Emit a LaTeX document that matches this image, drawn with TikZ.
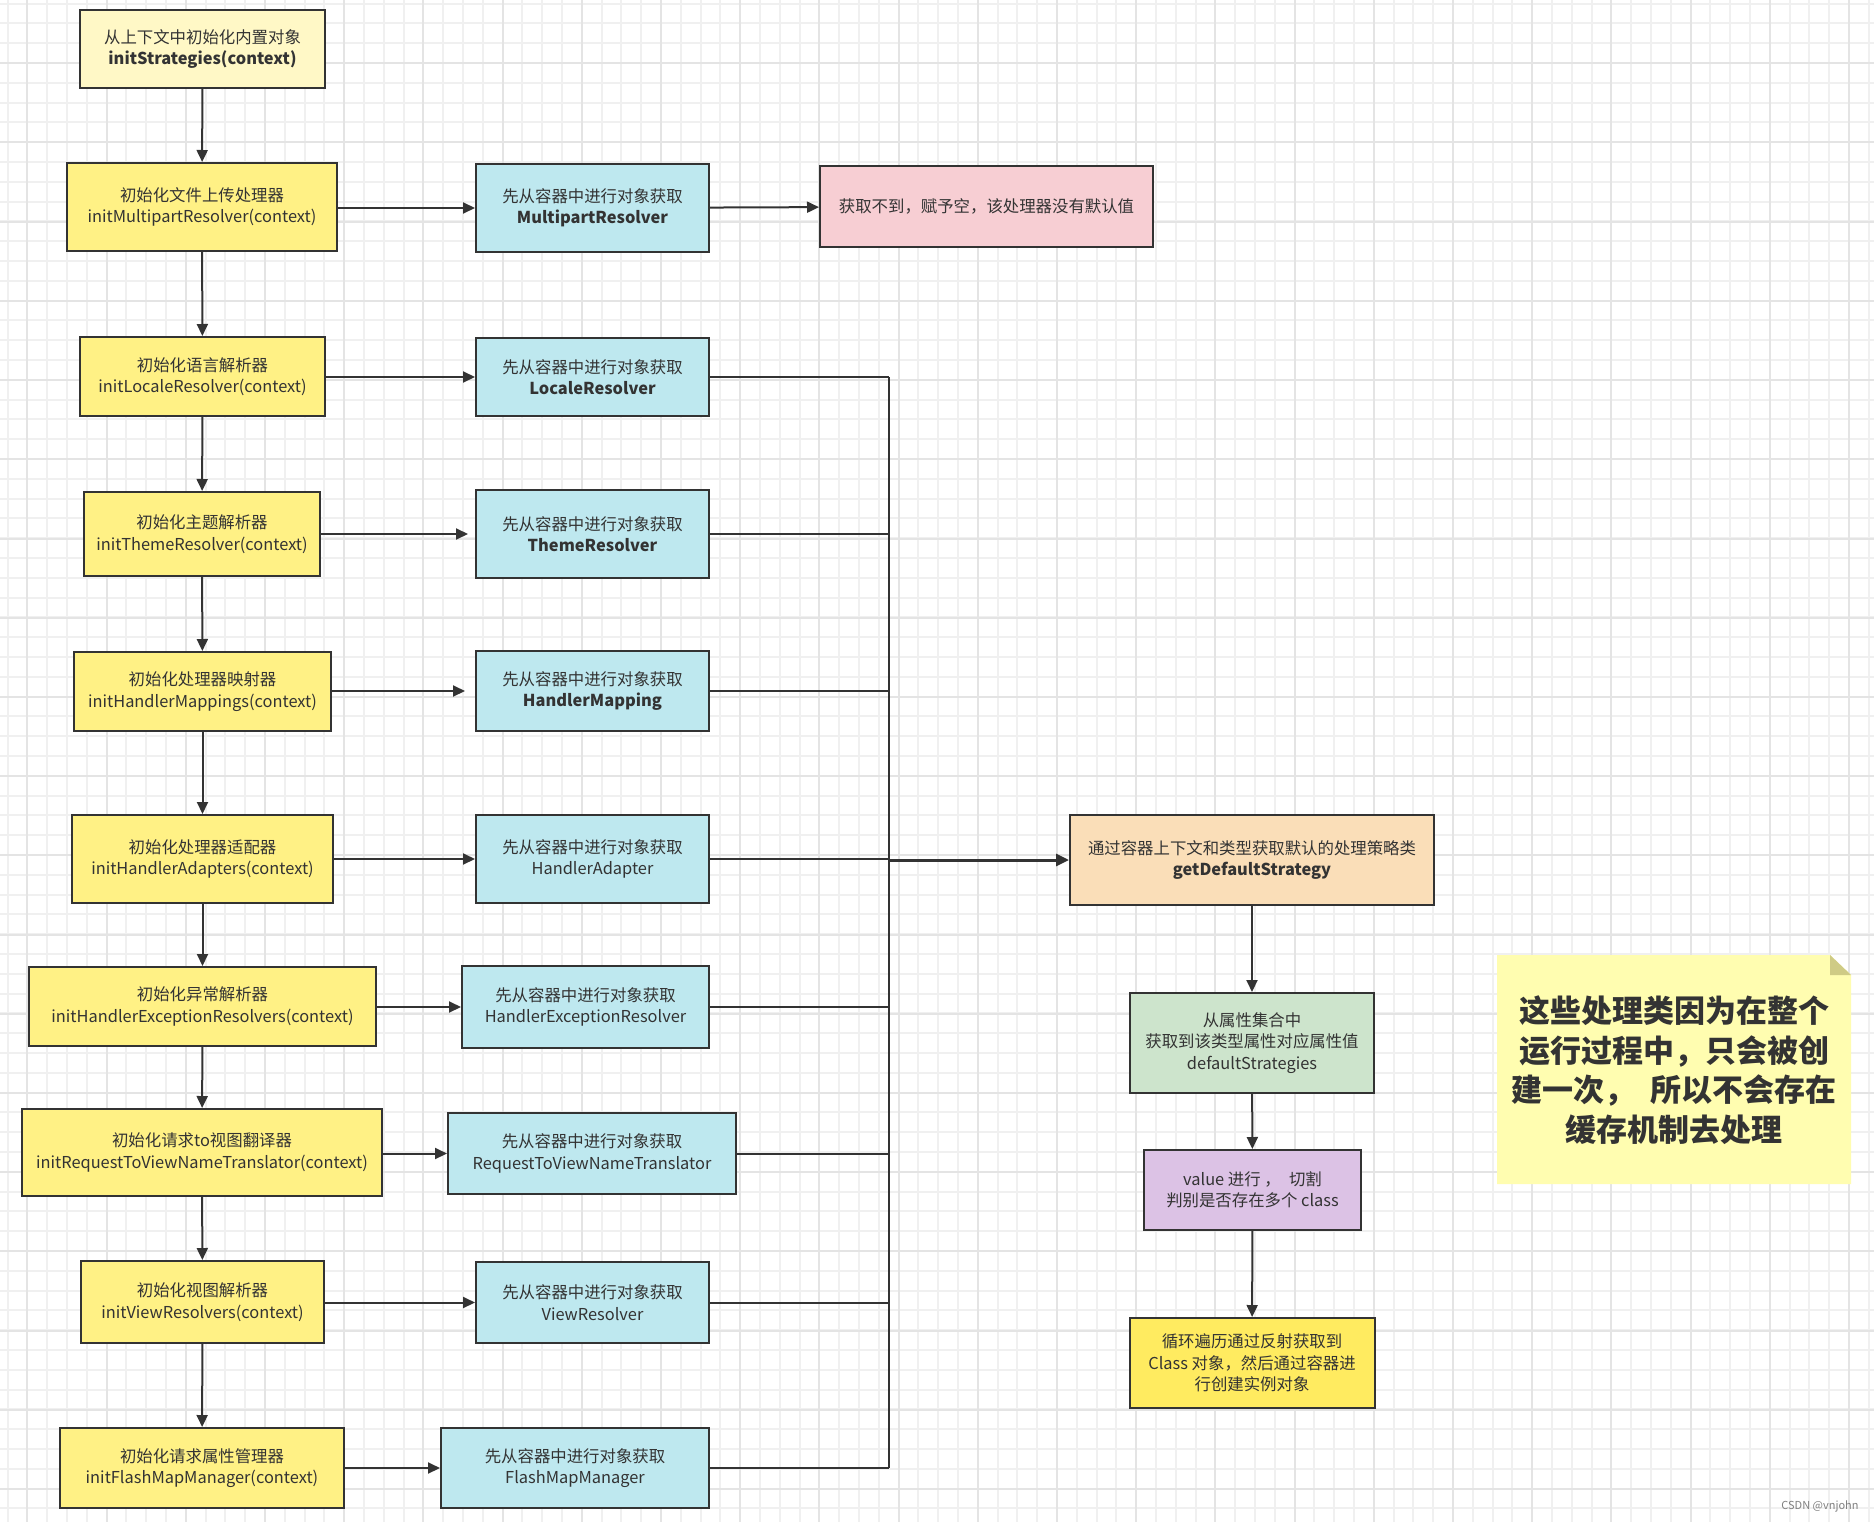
\documentclass[tikz,border=0pt]{standalone}
\usepackage{fontspec}
\setmainfont{Noto Sans CJK SC}
\usetikzlibrary{arrows.meta}
\definecolor{ln}{HTML}{333333}
\definecolor{txt}{HTML}{333333}
\definecolor{ylight}{HTML}{FFF8C6}
\definecolor{ybox}{HTML}{FFF185}
\definecolor{bbox}{HTML}{BEE8EF}
\definecolor{pbox}{HTML}{F7CED3}
\definecolor{obox}{HTML}{FADEB8}
\definecolor{gbox}{HTML}{CDE4CC}
\definecolor{vbox}{HTML}{DCC2E5}
\definecolor{fbox}{HTML}{FFEB60}
\definecolor{note}{HTML}{FFFDB0}
\definecolor{notefold}{HTML}{CFCB85}
\definecolor{gminor}{HTML}{F0F0F0}
\definecolor{gmajor}{HTML}{E4E4E4}
\tikzset{
  box/.style={draw=ln, line width=2pt, align=center, inner sep=0pt, text=txt,
    font=\fontsize{16.4}{21.5}\selectfont},
  sz/.style 2 args={minimum width=#1pt, minimum height=#2pt},
  conn/.style={draw=ln, line width=2pt},
  arr/.style={conn, -{Triangle[length=12pt,width=11pt]}},
}
\begin{document}
\begin{tikzpicture}[x=1pt,y=-1pt]
\useasboundingbox (0,0) rectangle (1874,1522);
\fill[white] (0,0) rectangle (1874,1522);
% grid
\foreach \i in {0,...,94} {
  \draw[gminor, line width=2pt] ({7.5+19.8*\i},0) -- ({7.5+19.8*\i},1522);
}
\foreach \i in {0,...,77} {
  \draw[gminor, line width=2pt] (0,{3.6+19.8*\i}) -- (1874,{3.6+19.8*\i});
}
\foreach \i in {0,...,23} {
  \draw[gmajor, line width=2pt] ({27.3+79.2*\i},0) -- ({27.3+79.2*\i},1522);
}
\foreach \i in {0,...,19} {
  \draw[gmajor, line width=2pt] (0,{-15.9+79.2*\i}) -- (1874,{-15.9+79.2*\i});
}

% left column
\node[box, fill=ylight, sz={245}{78}] (A) at (202.5,49) {从上下文中初始化内置对象\\\textbf{initStrategies(context)}};
\node[box, fill=ybox, sz={270}{88}] (B) at (202,207) {初始化文件上传处理器\\initMultipartResolver(context)};
\node[box, fill=ybox, sz={245}{79}] (C) at (202.5,376.5) {初始化语言解析器\\initLocaleResolver(context)};
\node[box, fill=ybox, sz={236}{84}] (D) at (202,534) {初始化主题解析器\\initThemeResolver(context)};
\node[box, fill=ybox, sz={257}{79}] (E) at (202.5,691.5) {初始化处理器映射器\\initHandlerMappings(context)};
\node[box, fill=ybox, sz={261}{88}] (F) at (202.5,859) {初始化处理器适配器\\initHandlerAdapters(context)};
\node[box, fill=ybox, sz={347}{79}] (G) at (202.5,1006.5) {初始化异常解析器\\initHandlerExceptionResolvers(context)};
\node[box, fill=ybox, sz={360}{87}] (H) at (202,1152.5) {初始化请求to视图翻译器\\initRequestToViewNameTranslator(context)};
\node[box, fill=ybox, sz={243}{82}] (I) at (202.5,1302) {初始化视图解析器\\initViewResolvers(context)};
\node[box, fill=ybox, sz={284}{80}] (J) at (202,1468) {初始化请求属性管理器\\initFlashMapManager(context)};

% blue column
\node[box, fill=bbox, sz={233}{88}] (bB) at (592.5,208) {先从容器中进行对象获取\\\textbf{MultipartResolver}};
\node[box, fill=bbox, sz={233}{78}] (bC) at (592.5,377) {先从容器中进行对象获取\\\textbf{LocaleResolver}};
\node[box, fill=bbox, sz={233}{88}] (bD) at (592.5,534) {先从容器中进行对象获取\\\textbf{ThemeResolver}};
\node[box, fill=bbox, sz={233}{80}] (bE) at (592.5,691) {先从容器中进行对象获取\\\textbf{HandlerMapping}};
\node[box, fill=bbox, sz={233}{88}] (bF) at (592.5,859) {先从容器中进行对象获取\\HandlerAdapter};
\node[box, fill=bbox, sz={247}{82}] (bG) at (585.5,1007) {先从容器中进行对象获取\\HandlerExceptionResolver};
\node[box, fill=bbox, sz={288}{81}] (bH) at (592,1153.5) {先从容器中进行对象获取\\RequestToViewNameTranslator};
\node[box, fill=bbox, sz={233}{81}] (bI) at (592.5,1302.5) {先从容器中进行对象获取\\ViewResolver};
\node[box, fill=bbox, sz={268}{80}] (bJ) at (575,1468) {先从容器中进行对象获取\\FlashMapManager};

\node[box, fill=pbox, sz={333}{81}] (pink) at (986.5,206.5) {获取不到，赋予空，该处理器没有默认值};

% right column
\node[box, fill=obox, sz={364}{90}] (orange) at (1252,860) {通过容器上下文和类型获取默认的处理策略类\\\textbf{getDefaultStrategy}};
\node[box, fill=gbox, sz={244}{100}] (green) at (1252,1043) {从属性集合中\\获取到该类型属性对应属性值\\defaultStrategies};
\node[box, fill=vbox, sz={217}{80}] (purple) at (1252.5,1190) {value 进行 ，\enspace 切割\\判别是否存在多个 class};
\node[box, fill=fbox, sz={245}{90}] (final) at (1252,1363) {循环遍历通过反射获取到\\Class 对象，然后通过容器进\\行创建实例对象};

% sticky note
\fill[note] (1497,955) -- (1830,955) -- (1851,975) -- (1851,1184) -- (1497,1184) -- cycle;
\fill[notefold] (1830,955) -- (1830,975) -- (1851,975) -- cycle;
\node[align=center, text=txt, font=\fontsize{31}{39.5}\selectfont\bfseries] (notetext) at (1674,1070)
  {这些处理类因为在整个\\运行过程中，只会被创\\建一次，\enspace 所以不会存在\\缓存机制去处理};

% vertical chain
\draw[arr] (A) -- (B);
\draw[arr] (B) -- (C);
\draw[arr] (C) -- (D);
\draw[arr] (D) -- (E);
\draw[arr] (E) -- (F);
\draw[arr] (F) -- (G);
\draw[arr] (G) -- (H);
\draw[arr] (H) -- (I);
\draw[arr] (I) -- (J);

% horizontal arrows
\draw[arr] (B.east |- bB) -- (bB.west);
\draw[arr] (bB) -- (pink);
\draw[arr] (C.east |- bC) -- (bC.west);
\draw[arr, shorten >=7pt] (D.east |- bD) -- (bD.west);
\draw[arr, shorten >=10pt] (E.east |- bE) -- (bE.west);
\draw[arr] (F.east |- bF) -- (bF.west);
\draw[arr] (G.east |- bG) -- (bG.west);
\draw[arr] (H.east |- bH) -- (bH.west);
\draw[arr] (I.east |- bI) -- (bI.west);
\draw[arr] (J.east |- bJ) -- (bJ.west);

% bus
\coordinate (bustop) at (889,377);
\coordinate (busbot) at (889,1468);
\coordinate (busmid) at (889,860);
\draw[conn] (bustop) -- (busbot);
\foreach \n in {bC,bD,bE,bF,bG,bH,bI,bJ} {
  \draw[conn] (\n.east) -- (\n.east -| bustop);
}
\draw[conn, line width=3pt, -{Triangle[length=13pt,width=12pt]}] (busmid) -- (orange.west);

\draw[arr] (orange) -- (green);
\draw[arr] (green) -- (purple);
\draw[arr] (purple) -- (final);

\node[text=gray, font=\fontsize{11}{13}\selectfont] (wm) at (1820,1506) {CSDN @vnjohn};
\end{tikzpicture}
\end{document}
